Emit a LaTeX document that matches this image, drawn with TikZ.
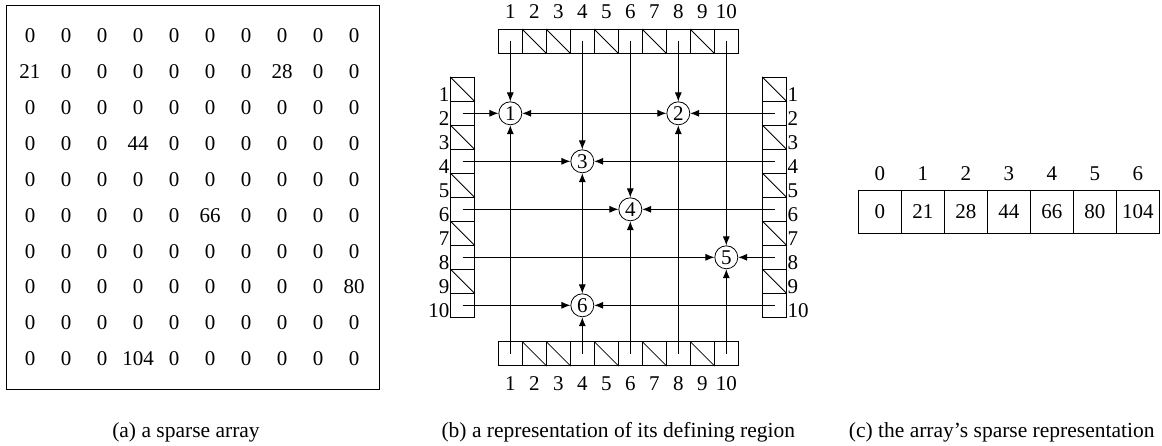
\documentclass[tikz,border=0pt]{standalone}
\usepackage{fontspec}
\setmainfont{Liberation Serif}
\usetikzlibrary{arrows.meta}

\tikzset{
  every node/.style={font=\fontsize{21}{24}\selectfont},
  cell/.style={draw, line width=0.8pt, minimum size=24pt, inner sep=0pt},
  bigcell/.style={draw, line width=0.8pt, minimum width=43pt, minimum height=42.6pt, inner sep=0pt},
  entry/.style={draw, circle, line width=0.8pt, minimum size=23pt, inner sep=0pt, fill=white},
  link/.style={-{Latex[length=9pt,width=7pt]}, line width=0.8pt},
  dlink/.style={{Latex[length=9pt,width=7pt]}-{Latex[length=9pt,width=7pt]}, line width=0.8pt},
  null/.style={line width=0.8pt},
  caption/.style={anchor=base, font=\fontsize{21.5}{24}\selectfont}
}

\begin{document}
\begin{tikzpicture}[x=1pt,y=-1pt]
  \useasboundingbox (0,0) rectangle (1162,445);

  % (a) the sparse array
  \draw[line width=1pt] (6.7,5) rectangle (379,389);
  \foreach \row [count=\i] in {{0,0,0,0,0,0,0,0,0,0},{21,0,0,0,0,0,0,28,0,0},
      {0,0,0,0,0,0,0,0,0,0},{0,0,0,44,0,0,0,0,0,0},{0,0,0,0,0,0,0,0,0,0},
      {0,0,0,0,0,66,0,0,0,0},{0,0,0,0,0,0,0,0,0,0},{0,0,0,0,0,0,0,0,0,80},
      {0,0,0,0,0,0,0,0,0,0},{0,0,0,104,0,0,0,0,0,0}}
    \foreach \v [count=\j] in \row
      \node (m-\i-\j) at ({30+36*(\j-1)},{35.8+35.9*(\i-1)}) {\v};
  \node[caption] (capa) at (186,437) {(a) a sparse array};

  % (b) the defining region
  \foreach \j in {1,...,10} {
    \node[cell] (t\j) at ({486.3+24*\j},41.3) {};
    \node[cell] (b\j) at ({486.3+24*\j},353.7) {};
    \node[anchor=base] (tl\j) at ({486.3+24*\j},18.3) {\j};
    \node[anchor=base] (bl\j) at ({486.3+24*\j},390) {\j};
    \node[cell] (l\j) at (462.5,{65.3+24*\j}) {};
    \node[cell] (r\j) at (774.5,{65.3+24*\j}) {};
    \node[anchor=base east, inner sep=1pt] (ll\j) at (450.5,{77.3+24*\j}) {\j};
    \node[anchor=base west, inner sep=1pt] (rl\j) at (786.5,{77.3+24*\j}) {\j};
  }
  \foreach \j in {2,3,5,7,9} {
    \draw[null] (t\j.north west) -- (t\j.south east);
    \draw[null] (b\j.north west) -- (b\j.south east);
  }
  \foreach \j in {1,3,5,7,9} {
    \draw[null] (l\j.north west) -- (l\j.south east);
    \draw[null] (r\j.north west) -- (r\j.south east);
  }

  \node[entry] (n1) at (t1 |- l2) {1};
  \node[entry] (n2) at (t8 |- l2) {2};
  \node[entry] (n3) at (t4 |- l4) {3};
  \node[entry] (n4) at (t6 |- l6) {4};
  \node[entry] (n5) at (t10 |- l8) {5};
  \node[entry] (n6) at (t4 |- l10) {6};

  \draw[link] (t1.center) -- (n1);
  \draw[link] (b1.center) -- (n1);
  \draw[link] (t4.center) -- (n3);
  \draw[link] (b4.center) -- (n6);
  \draw[link] (t6.center) -- (n4);
  \draw[link] (b6.center) -- (n4);
  \draw[link] (t8.center) -- (n2);
  \draw[link] (b8.center) -- (n2);
  \draw[link] (t10.center) -- (n5);
  \draw[link] (b10.center) -- (n5);
  \draw[dlink] (n3) -- (n6);
  \draw[link] (l2.center) -- (n1);
  \draw[link] (r2.center) -- (n2);
  \draw[dlink] (n1) -- (n2);
  \draw[link] (l4.center) -- (n3);
  \draw[link] (r4.center) -- (n3);
  \draw[link] (l6.center) -- (n4);
  \draw[link] (r6.center) -- (n4);
  \draw[link] (l8.center) -- (n5);
  \draw[link] (r8.center) -- (n5);
  \draw[link] (l10.center) -- (n6);
  \draw[link] (r10.center) -- (n6);
  \node[caption] (capb) at (618.3,437) {(b) a representation of its defining region};

  % (c) the sparse representation
  \foreach \v [count=\k from 0] in {0,21,28,44,66,80,104} {
    \node[bigcell] (c\k) at ({879.8+43*\k},212) {\v};
    \node[anchor=base] (cl\k) at ({879.8+43*\k},180) {\k};
  }
  \node[caption] (capc) at (1001.7,437) {(c) the array's sparse representation};
\end{tikzpicture}
\end{document}
